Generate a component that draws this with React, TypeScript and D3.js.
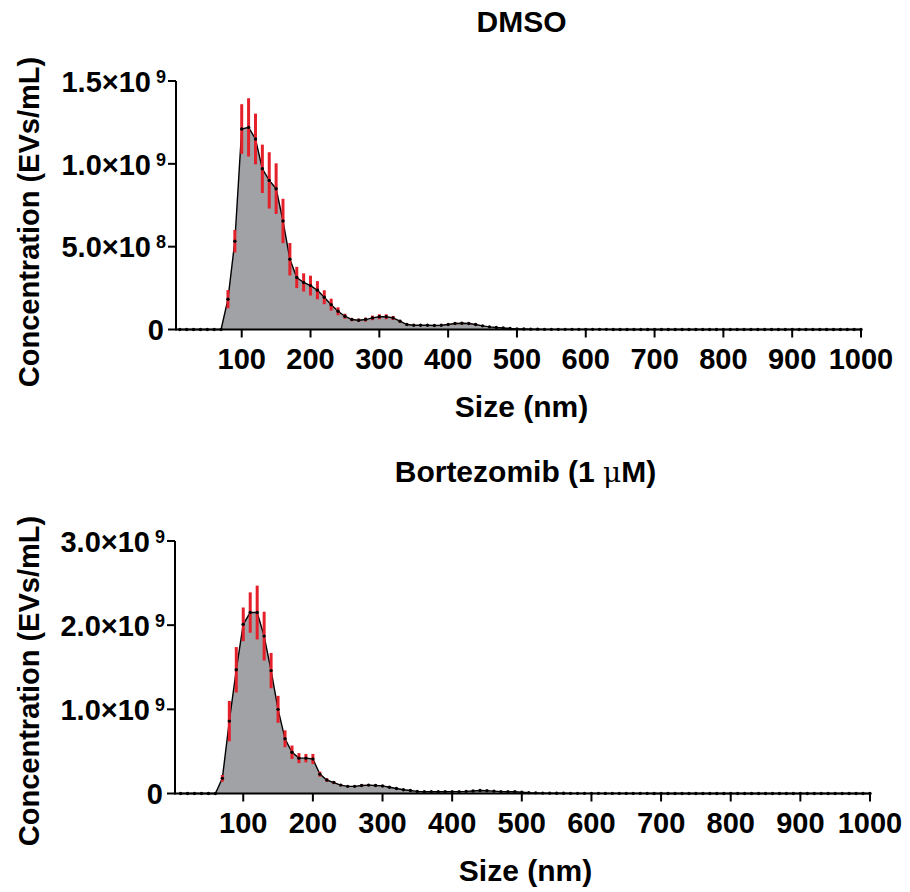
import React from "react";
import * as d3 from "d3";

// particle size bins (nm)
const sizes = [
  10, 20, 30, 40, 50, 60, 70, 80, 90, 100,
  110, 120, 130, 140, 150, 160, 170, 180, 190, 200,
  210, 220, 230, 240, 250, 260, 270, 280, 290, 300,
  310, 320, 330, 340, 350, 360, 370, 380, 390, 400,
  410, 420, 430, 440, 450, 460, 470, 480, 490, 500,
  510, 520, 530, 540, 550, 560, 570, 580, 590, 600,
  610, 620, 630, 640, 650, 660, 670, 680, 690, 700,
  710, 720, 730, 740, 750, 760, 770, 780, 790, 800,
  810, 820, 830, 840, 850, 860, 870, 880, 890, 900,
  910, 920, 930, 940, 950, 960, 970, 980, 990, 1000,
];

// DMSO concentration, x1e8 EVs/mL
const dmsoMean = [
  0, 0, 0, 0, 0, 0, 0, 1.83, 5.33, 12.1,
  12.2, 11.5, 9.7, 9.0, 8.5, 6.55, 4.24, 3.14, 2.84, 2.65,
  2.37, 1.95, 1.5, 1.1, 0.8, 0.6, 0.56, 0.6, 0.7, 0.77,
  0.77, 0.7, 0.5, 0.3, 0.26, 0.26, 0.26, 0.24, 0.26, 0.3,
  0.36, 0.38, 0.36, 0.3, 0.22, 0.16, 0.12, 0.09, 0.06, 0.04,
  0.03, 0.02, 0.02, 0.01, 0.01, 0.01, 0.01, 0.01, 0.01, 0.01,
  0.01, 0.01, 0.01, 0, 0, 0, 0, 0, 0, 0,
  0, 0, 0, 0, 0, 0, 0, 0, 0, 0,
  0, 0, 0, 0, 0, 0, 0, 0, 0, 0,
  0, 0, 0, 0, 0, 0, 0, 0, 0, 0,
];
const dmsoSem = [
  0, 0, 0, 0, 0, 0, 0, 0.55, 0.68, 1.5,
  1.76, 1.53, 1.46, 1.7, 1.53, 1.34, 0.98, 0.64, 0.55, 0.6,
  0.55, 0.42, 0.36, 0.24, 0.15, 0.1, 0.1, 0.12, 0.14, 0.15,
  0.15, 0.12, 0.08, 0.05, 0.04, 0.04, 0.04, 0.04, 0.04, 0.05,
  0.06, 0.06, 0.06, 0.05, 0.04, 0.03, 0.02, 0.02, 0.01, 0.01,
  0, 0, 0, 0, 0, 0, 0, 0, 0, 0,
  0, 0, 0, 0, 0, 0, 0, 0, 0, 0,
  0, 0, 0, 0, 0, 0, 0, 0, 0, 0,
  0, 0, 0, 0, 0, 0, 0, 0, 0, 0,
  0, 0, 0, 0, 0, 0, 0, 0, 0, 0,
];

// Bortezomib (1 uM) concentration, x1e8 EVs/mL
const bortMean = [
  0, 0, 0, 0, 0, 0, 1.8, 8.6, 14.7, 20.1,
  21.5, 21.5, 18.7, 14.6, 10.0, 6.5, 4.9, 4.2, 4.2, 4.1,
  2.3, 1.6, 1.3, 1.0, 0.85, 0.85, 0.95, 1.0, 0.95, 0.9,
  0.75, 0.6, 0.45, 0.35, 0.25, 0.2, 0.2, 0.2, 0.2, 0.22,
  0.22, 0.25, 0.3, 0.35, 0.32, 0.28, 0.22, 0.2, 0.2, 0.15,
  0.1, 0.08, 0.05, 0.04, 0.03, 0.03, 0.02, 0.02, 0.02, 0.02,
  0.02, 0.01, 0.01, 0.01, 0.01, 0.01, 0.01, 0.01, 0, 0,
  0, 0, 0, 0, 0, 0, 0, 0, 0, 0,
  0, 0, 0, 0, 0, 0, 0, 0, 0, 0,
  0, 0, 0, 0, 0, 0, 0, 0, 0, 0,
];
const bortSem = [
  0, 0, 0, 0, 0, 0, 0.4, 2.4, 2.7, 2.0,
  2.4, 3.2, 2.9, 2.1, 1.6, 1.0, 0.8, 0.6, 0.5, 0.6,
  0.3, 0.2, 0.15, 0.12, 0.1, 0.1, 0.12, 0.12, 0.1, 0.1,
  0.08, 0.06, 0.05, 0.04, 0.03, 0.02, 0.02, 0.02, 0.02, 0.03,
  0.03, 0.03, 0.04, 0.04, 0.04, 0.03, 0.03, 0.02, 0.02, 0.02,
  0, 0, 0, 0, 0, 0, 0, 0, 0, 0,
  0, 0, 0, 0, 0, 0, 0, 0, 0, 0,
  0, 0, 0, 0, 0, 0, 0, 0, 0, 0,
  0, 0, 0, 0, 0, 0, 0, 0, 0, 0,
  0, 0, 0, 0, 0, 0, 0, 0, 0, 0,
];

const xTicks = [100, 200, 300, 400, 500, 600, 700, 800, 900, 1000];
const dmsoTicks = [0, 5e8, 1e9, 1.5e9];
const bortTicks = [0, 1e9, 2e9, 3e9];

const font = "'Liberation Sans', Arial, Helvetica, sans-serif";
const gray = "#a1a2a6";
const red = "#e5202a";

function tickLabel(v, x, y) {
  if (v === 0) {
    return (
      <text x={x - 2} y={y} dy="0.37em" textAnchor="end" fontSize={29} fontWeight="bold">
        0
      </text>
    );
  }
  const exp = Math.floor(Math.log10(v));
  const mant = (v / Math.pow(10, exp)).toFixed(1);
  return (
    <text x={x} y={y} dy="0.37em" textAnchor="end" fontSize={29} fontWeight="bold">
      {mant + "×10"}
      <tspan dx={5} dy={-9} fontSize={18}>
        {exp}
      </tspan>
    </text>
  );
}

function Panel({ title, unit, mean, sem, yMax, yTicks, xStart, xRange, yRange, titleY, yTitleY }) {
  const x = d3.scaleLinear().domain([xStart, 1000]).range(xRange);
  const y = d3.scaleLinear().domain([0, yMax]).range(yRange);
  const pts = sizes.map((s, i) => ({ s, v: mean[i] * 1e8, e: sem[i] * 1e8 }));

  const area = d3
    .area()
    .x(d => x(d.s))
    .y0(y(0))
    .y1(d => y(d.v));
  const line = d3
    .line()
    .x(d => x(d.s))
    .y(d => y(d.v));

  const x0 = xRange[0];
  const y0 = yRange[0];
  const cx = (xRange[0] + xRange[1]) / 2;

  return (
    <g fontFamily={font} fill="#000">
      <text x={cx + 3} y={titleY} textAnchor="middle" fontSize={30} fontWeight="bold">
        {title}
        {unit && (
          <>
            <tspan fontFamily="'DejaVu Serif', serif" fontWeight="normal" fontSize={28}>
              {"μ"}
            </tspan>
            <tspan>{"M)"}</tspan>
          </>
        )}
      </text>

      <path d={area(pts)} fill={gray} stroke="none" />
      <path d={line(pts)} fill="none" stroke="#000" strokeWidth={1.4} />
      {pts
        .filter(d => d.e > 0)
        .map(d => (
          <line
            key={"e" + d.s}
            x1={x(d.s)}
            x2={x(d.s)}
            y1={y(d.v - d.e)}
            y2={y(d.v + d.e)}
            stroke={red}
            strokeWidth={3}
          />
        ))}
      {pts.map(d => (
        <circle key={"p" + d.s} cx={x(d.s)} cy={y(d.v)} r={1.7} fill="#000" />
      ))}

      {/* axes */}
      <line x1={x0} x2={xRange[1]} y1={y0} y2={y0} stroke="#000" strokeWidth={2} />
      <line x1={x0} x2={x0} y1={y0 + 1} y2={yRange[1]} stroke="#000" strokeWidth={2} />
      {xTicks.map(t => (
        <g key={"xt" + t}>
          <line x1={x(t)} x2={x(t)} y1={y0} y2={y0 + 8} stroke="#000" strokeWidth={2} />
          <text x={x(t)} y={y0 + 39} textAnchor="middle" fontSize={29} fontWeight="bold">
            {t}
          </text>
        </g>
      ))}
      {yTicks.map(t => (
        <g key={"yt" + t}>
          <line x1={x0 - 8} x2={x0} y1={y(t)} y2={y(t)} stroke="#000" strokeWidth={2} />
          {tickLabel(t, x0 - 10, y(t))}
        </g>
      ))}

      <text x={cx + 3} y={y0 + 87} textAnchor="middle" fontSize={30} fontWeight="bold">
        Size (nm)
      </text>
      <text
        transform={`translate(39,${yTitleY}) rotate(-90)`}
        textAnchor="middle"
        fontSize={29}
        fontWeight="bold"
      >
        Concentration (EVs/mL)
      </text>
    </g>
  );
}

export default function App() {
  return (
    <svg
      width={910}
      height={892}
      style={{ position: "absolute", left: 0, top: 0, background: "#fff" }}
    >
      <Panel
        title="DMSO"
        mean={dmsoMean}
        sem={dmsoSem}
        yMax={1.5e9}
        yTicks={dmsoTicks}
        xStart={4.5}
        xRange={[176, 861]}
        yRange={[329.5, 81]}
        titleY={32}
        yTitleY={222}
      />
      <Panel
        title="Bortezomib (1 "
        unit={true}
        mean={bortMean}
        sem={bortSem}
        yMax={3e9}
        yTicks={bortTicks}
        xStart={2}
        xRange={[175, 870]}
        yRange={[793.5, 541]}
        titleY={482}
        yTitleY={681}
      />
    </svg>
  );
}
